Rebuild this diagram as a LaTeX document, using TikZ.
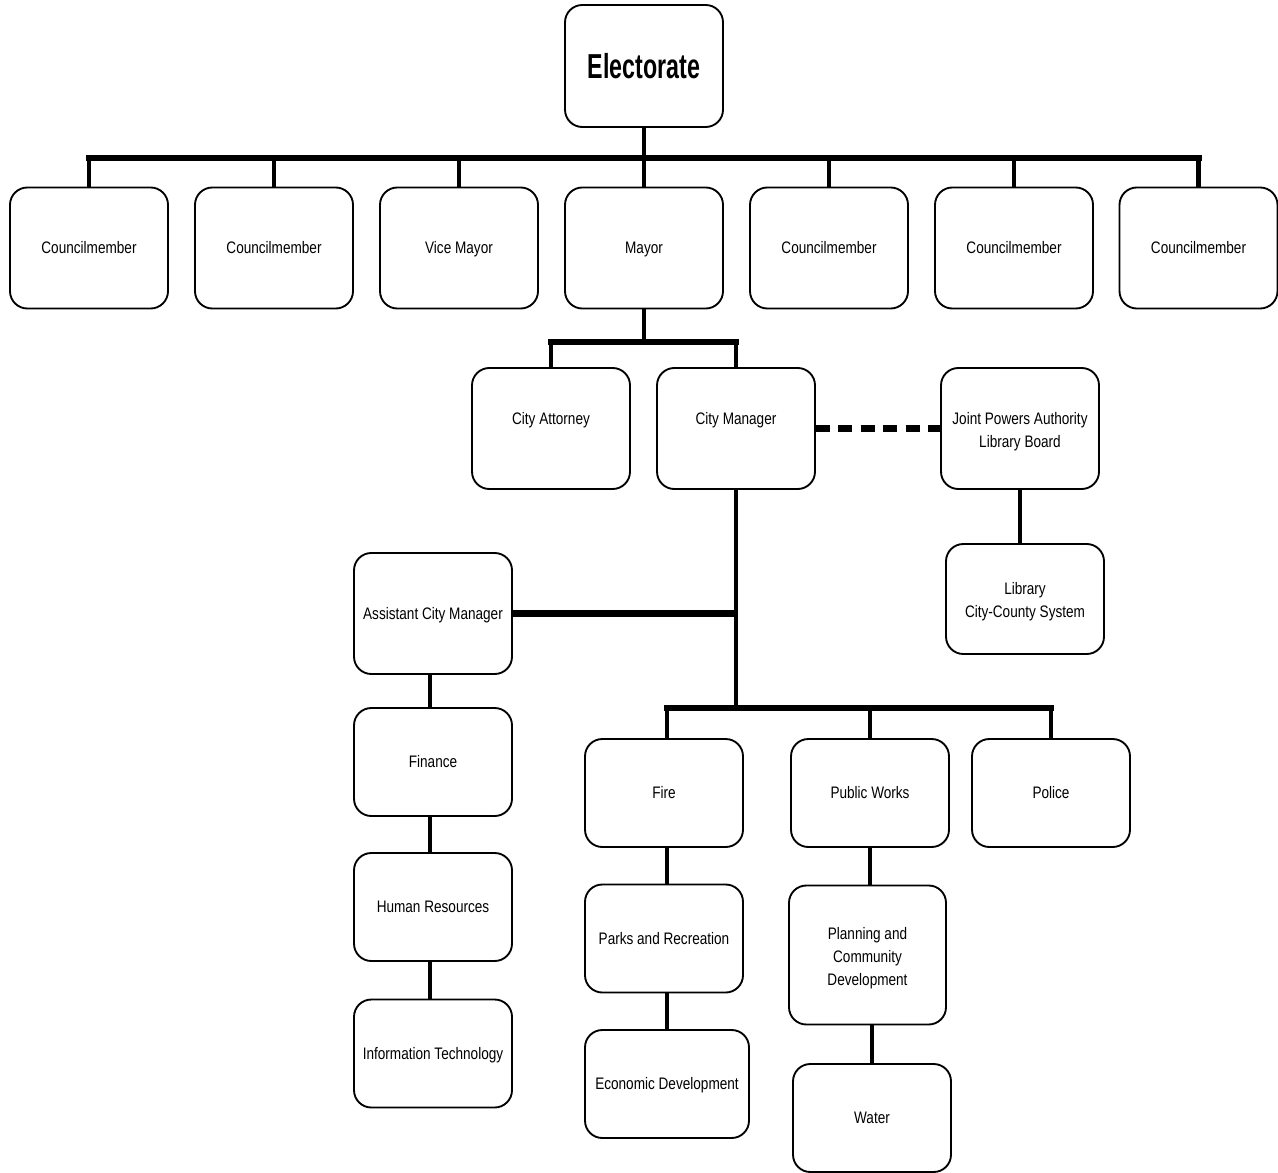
\documentclass[tikz,border=0pt]{standalone}
\usepackage{fontspec}
\setmainfont[FakeStretch=0.815]{Liberation Sans}
\newfontfamily\electfont[FakeStretch=0.67]{Liberation Sans Bold}
\newcommand\topgap{\rule{0pt}{13.5pt}}
\begin{document}
\begin{tikzpicture}[x=0.75pt,y=-0.75pt,
  box/.style={draw, fill=white, line width=1.4pt, rounded corners=13pt,
    minimum width=118.5pt, minimum height=90.75pt, align=center, inner sep=2pt,
    font=\fontsize{12.5}{17.25}\selectfont},
  one/.style={text height=10.5pt, text depth=1.7pt},
  short/.style={minimum height=81pt},
  vline/.style={line width=3.6pt},
  hline/.style={line width=5pt, line cap=rect},
  hlineb/.style={line width=5pt},
  dashline/.style={line width=5pt, dash pattern=on 10.5pt off 6.3pt}]
\useasboundingbox (0,0) rectangle (1278,1173);

% boxes
\node[box, minimum height=91.5pt] (elect) at (644,66) {\electfont\fontsize{26}{30}\selectfont Electorate};
\node[box, one] (c1) at (89,248) {Councilmember};
\node[box, one] (c2) at (274,248) {Councilmember};
\node[box, one] (vm) at (459,248) {Vice Mayor};
\node[box, one] (mayor) at (644,248) {Mayor};
\node[box, one] (c5) at (829,248) {Councilmember};
\node[box, one] (c6) at (1014,248) {Councilmember};
\node[box, one] (c7) at (1198.5,248) {Councilmember};

\node[box] (ca) at (551,428.5) {\raisebox{2.7pt}[0pt][0pt]{City Attorney}};
\node[box] (cm) at (736,428.5) {\raisebox{2.7pt}[0pt][0pt]{City Manager}};
\node[box] (jpa) at (1020,428.5) {\topgap Joint Powers Authority\\Library Board};
\node[box, minimum height=82.5pt] (lib) at (1025,599) {\topgap Library\\City-County System};

\node[box, one] (acm) at (433,613.5) {Assistant City Manager};
\node[box, one, short] (fin) at (433,762) {Finance};
\node[box, one, short] (hr) at (433,907) {Human Resources};
\node[box, one, short] (it) at (433,1053.5) {Information Technology};

\node[box, one, short] (fire) at (664,793) {Fire};
\node[box, one, short] (pw) at (870,793) {Public Works};
\node[box, one, short] (police) at (1051,793) {Police};
\node[box, one, short] (parks) at (664,938.5) {Parks and Recreation};
\node[box, one, short, minimum width=123pt] (econ) at (667,1084) {Economic Development};
\node[box, minimum height=104.25pt, minimum width=117.75pt] (plan) at (867.5,955) {\topgap Planning and\\Community\\Development};
\node[box, one, short] (water) at (872,1118) {Water};

% top level
\coordinate (topbar) at (644,158);
\draw[vline] (elect.south) -- (mayor.north);
\draw[hline] (c1.north |- topbar) -- (c7.north |- topbar);
\foreach \c in {c1,c2,vm,c5,c6,c7}
  \draw[vline] (\c.north) -- (\c.north |- topbar);

% mayor
\coordinate (mbar) at (644,342);
\draw[vline] (mayor.south) -- (mbar);
\draw[hline] (ca.north |- mbar) -- (cm.north |- mbar);
\draw[vline] (ca.north) -- (ca.north |- mbar);
\draw[vline] (cm.north) -- (cm.north |- mbar);

% library
\draw[dashline] (cm.east) -- (jpa.west);
\draw[vline] (jpa.south) -- (jpa.south |- lib.north);

% city manager
\coordinate (dbar) at (736,708);
\coordinate (firetop) at ([xshift=2.25pt]fire.north);
\draw[vline] (cm.south) -- (dbar);
\draw[hlineb] (acm.east) -- (acm.east -| dbar);
\draw[hline] (firetop |- dbar) -- (police.north |- dbar);
\draw[vline] (firetop) -- (firetop |- dbar);
\foreach \c in {pw,police}
  \draw[vline] (\c.north) -- (\c.north |- dbar);

% chains
\draw[vline] ([xshift=-2.25pt]acm.south) -- ([xshift=-2.25pt]fin.north);
\draw[vline] ([xshift=-2.25pt]fin.south) -- ([xshift=-2.25pt]hr.north);
\draw[vline] ([xshift=-2.25pt]hr.south) -- ([xshift=-2.25pt]it.north);
\draw[vline] (econ.north |- fire.south) -- (econ.north |- parks.north);
\draw[vline] (econ.north |- parks.south) -- (econ.north);
\draw[vline] (pw.south) -- (pw.south |- plan.north);
\draw[vline] (water.north |- plan.south) -- (water.north);
\end{tikzpicture}
\end{document}
